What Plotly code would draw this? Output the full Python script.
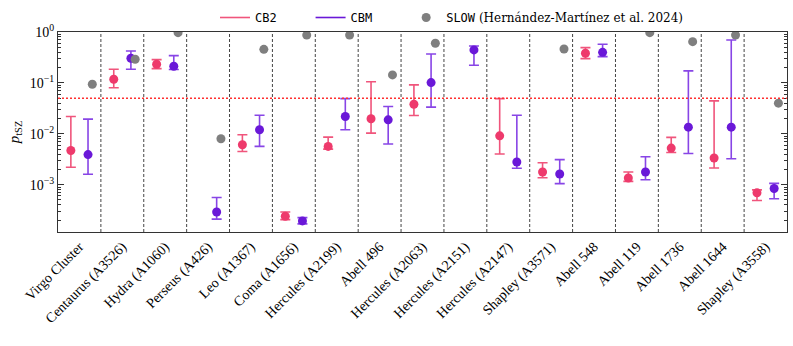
import plotly.graph_objects as go

clusters = ["Virgo Cluster", "Centaurus (A3526)", "Hydra (A1060)", "Perseus (A426)",
            "Leo (A1367)", "Coma (A1656)", "Hercules (A2199)", "Abell 496",
            "Hercules (A2063)", "Hercules (A2151)", "Hercules (A2147)", "Shapley (A3571)",
            "Abell 548", "Abell 119", "Abell 1736", "Abell 1644", "Shapley (A3558)"]

cb2_val = [0.0047, 0.118, 0.232, None, 0.0061, 0.00024, 0.00565, 0.0197,
           0.038, None, 0.0091, 0.00177, 0.382, 0.00135, 0.00524, 0.00334, 0.00069]
cb2_hi = [0.0219, 0.185, 0.287, None, 0.0096, 0.00029, 0.0086, 0.105,
          0.0914, None, 0.049, 0.0027, 0.493, 0.00177, 0.0085, 0.0444, 0.00079]
cb2_lo = [0.0022, 0.080, 0.191, None, 0.0045, 0.000206, 0.0050, 0.0103,
          0.0229, None, 0.0040, 0.00137, 0.300, 0.00116, 0.0043, 0.00212, 0.00049]

cbm_val = [0.0039, 0.305, 0.212, 0.00029, 0.012, 0.000194, 0.0219, 0.0188,
           0.1015, 0.444, 0.00279, 0.00162, 0.399, 0.00177, 0.0135, 0.0135, 0.00084]
cbm_hi = [0.0194, 0.424, 0.343, 0.00056, 0.0232, 0.000225, 0.049, 0.0343,
          0.37, 0.53, 0.0232, 0.0031, 0.573, 0.00354, 0.172, 0.697, 0.00106]
cbm_lo = [0.0016, 0.185, 0.183, 0.00021, 0.00565, 0.00017, 0.012, 0.0063,
          0.0334, 0.222, 0.0021, 0.00105, 0.328, 0.00125, 0.0041, 0.00323, 0.00053]

slow_val = [0.094, 0.291, 0.97, 0.008, 0.457, 0.87, 0.87, 0.1435,
            0.60, None, None, 0.464, None, 0.97, 0.646, 0.87, 0.040]

threshold = 0.05

CB2_C = "#ee3a6c"
CB2_BAR = "#f0557c"
CBM_C = "#6a18d8"
CBM_BAR = "#8845e6"
SLOW_C = "#7f7f7f"

idx = list(range(len(clusters)))

def offs(vals, d):
    return [i + d for i, v in enumerate(vals) if v is not None]

def keep(vals, ref):
    return [v for v, r in zip(vals, ref) if r is not None]

fig = go.Figure()

def add_series(vals, hi, lo, d, mc, bc, name):
    v = keep(vals, vals)
    h = keep(hi, vals)
    l = keep(lo, vals)
    fig.add_trace(go.Scatter(
        x=offs(vals, d), y=v, mode="markers", showlegend=False,
        marker=dict(color=mc, size=9),
        error_y=dict(type="data", symmetric=False,
                     array=[a - b for a, b in zip(h, v)],
                     arrayminus=[b - a for a, b in zip(l, v)],
                     color=bc, thickness=1.6, width=5),
        name=name))

add_series(cb2_val, cb2_hi, cb2_lo, -0.2, CB2_C, CB2_BAR, "CB2")
add_series(cbm_val, cbm_hi, cbm_lo, 0.2, CBM_C, CBM_BAR, "CBM")

fig.add_trace(go.Scatter(x=offs(slow_val, 0.3), y=keep(slow_val, slow_val), mode="markers",
                         marker=dict(color=SLOW_C, size=9), showlegend=False, name="SLOW"))

mono = "font-family:'DejaVu Sans Mono', 'Liberation Mono', monospace"
pad = "\u00a0" * 4
# legend proxies
fig.add_trace(go.Scatter(x=[None], y=[None], mode="lines", line=dict(color=CB2_BAR, width=1.6),
                         name=f"<span style=\"{mono}\">CB2{pad}</span>"))
fig.add_trace(go.Scatter(x=[None], y=[None], mode="lines", line=dict(color=CBM_C, width=1.6),
                         name=f"<span style=\"{mono}\">CBM{pad}</span>"))
fig.add_trace(go.Scatter(x=[None], y=[None], mode="markers", marker=dict(color=SLOW_C, size=9),
                         name=f"<span style=\"{mono}\">SLOW</span> (Hernández-Martínez et al. 2024)"))

for k in range(len(clusters) - 1):
    fig.add_vline(x=k + 0.5, line=dict(color="#444444", width=1, dash="3px,2px"), layer="below")

fig.add_hline(y=threshold, line=dict(color="#ff3030", width=1.4, dash="2px,2px"))

fig.update_layout(
    width=793, height=346,
    margin=dict(l=58, r=6, t=32, b=114, autoexpand=False),
    plot_bgcolor="white", paper_bgcolor="white",
    font=dict(family="Liberation Serif, DejaVu Serif, serif", size=13, color="black"),
    legend=dict(orientation="h", x=(215 - 58) / 729, xanchor="left", y=1.0, yanchor="bottom",
                font=dict(size=12, family="DejaVu Serif, serif"), bgcolor="rgba(0,0,0,0)",
                itemwidth=30),
    xaxis=dict(range=[-0.5, len(clusters) - 0.5], tickmode="array", tickvals=idx,
               ticktext=clusters, tickangle=-45, ticks="", showgrid=False, zeroline=False,
               showline=True, linecolor="#333333", linewidth=1, mirror=True,
               tickfont=dict(size=14), automargin=False),
    yaxis=dict(type="log", range=[-3.93, 0.0], showgrid=False, zeroline=False,
               showline=True, linecolor="#333333", linewidth=1, mirror="allticks",
               ticks="inside", ticklen=6, tickcolor="#333333", automargin=False,
               tickvals=[1e-3, 1e-2, 1e-1, 1],
               ticktext=["10<sup>−3</sup>", "10<sup>−2</sup>", "10<sup>−1</sup>", "10<sup>0</sup>"],
               minor=dict(ticks="inside", ticklen=3, tickcolor="#333333",
                          tickvals=[m * 10 ** e for e in range(-4, 0) for m in range(2, 10)]),
               title=dict(text="<i>p</i><sub>tSZ</sub>", standoff=6, font=dict(size=15)),
               tickfont=dict(size=14)),
)

fig.write_html("out.html", post_script="document.body.style.margin='0';",
               config={"displayModeBar": False})
